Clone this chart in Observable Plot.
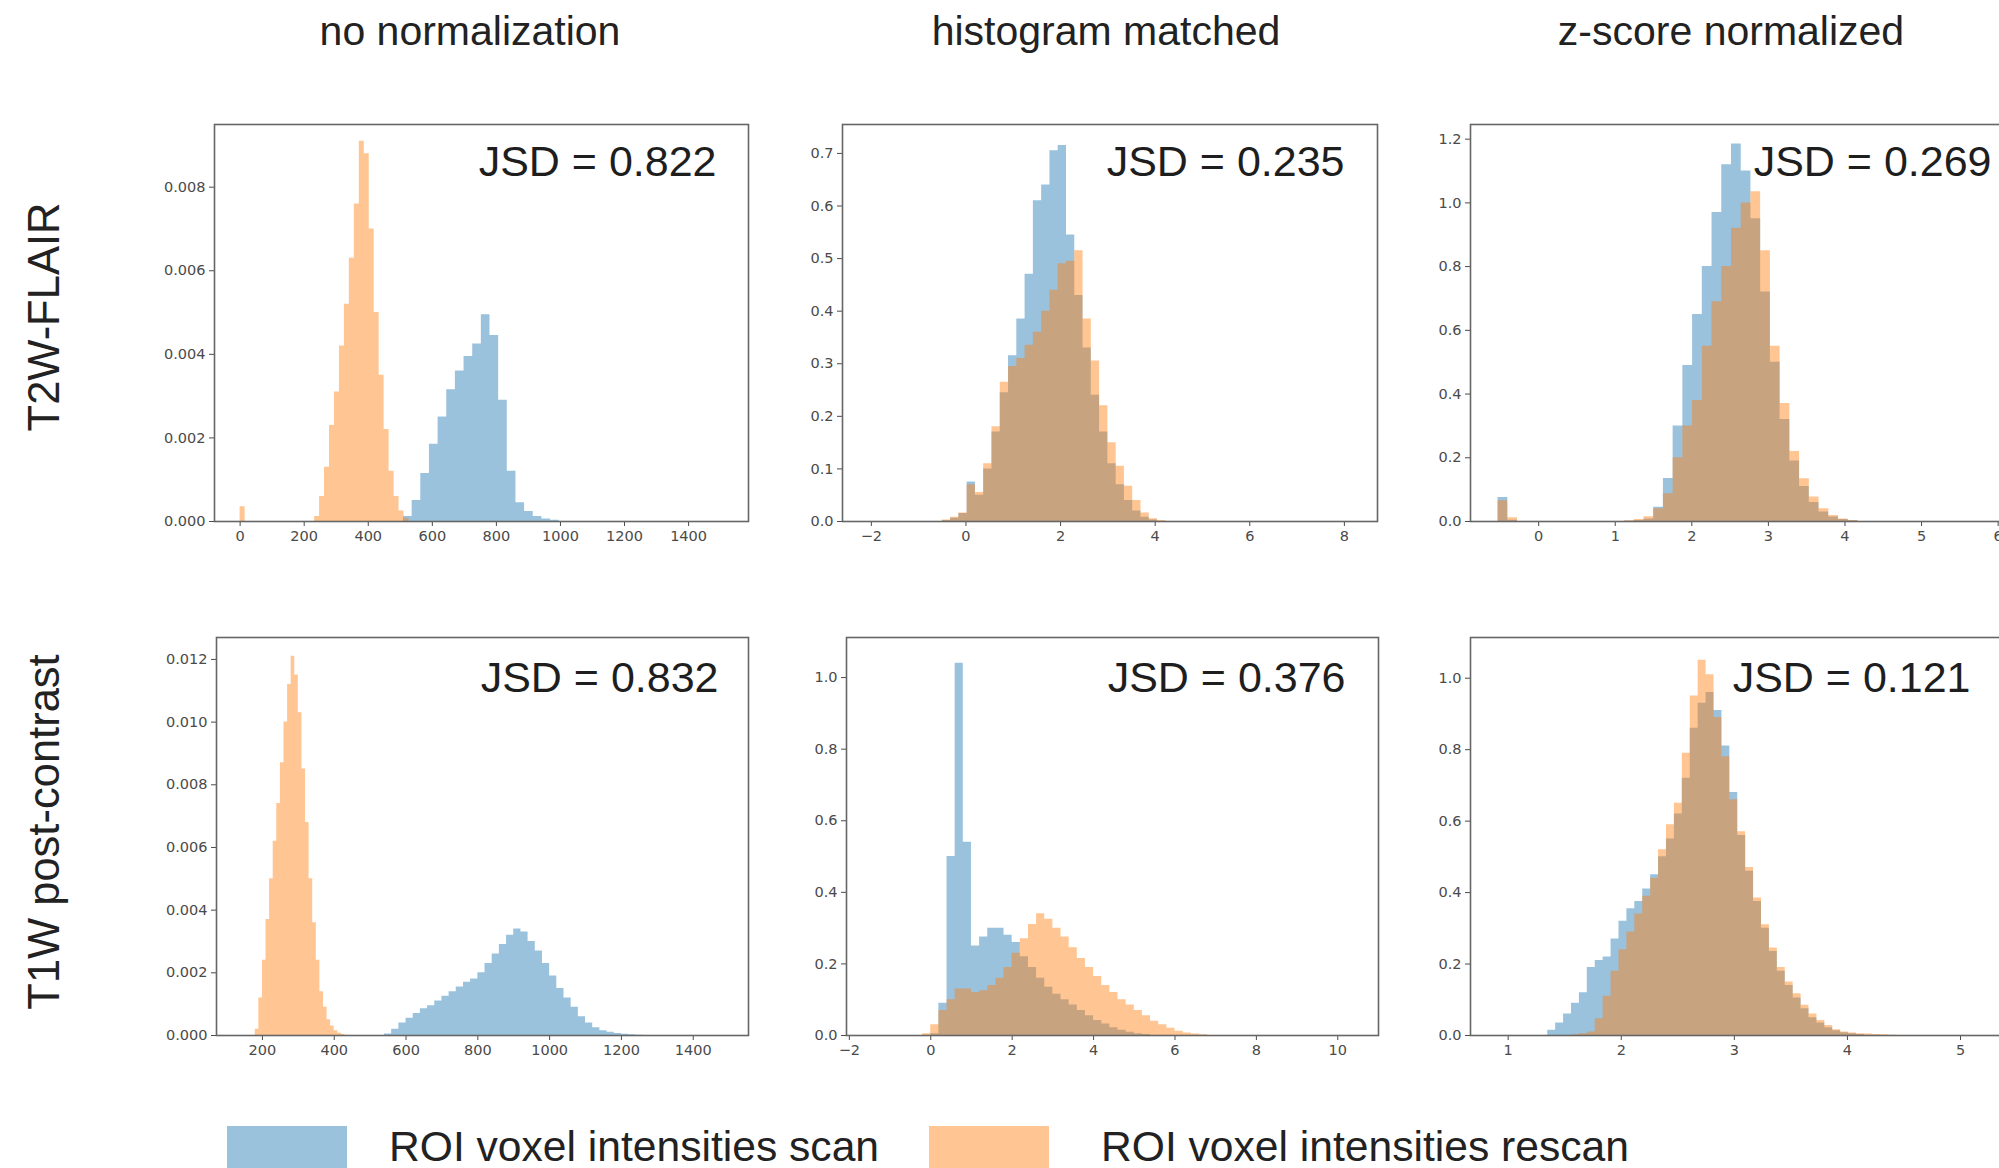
<!DOCTYPE html>
<html><head><meta charset="utf-8">
<script src="https://cdn.jsdelivr.net/npm/d3@7"></script>
<script src="https://cdn.jsdelivr.net/npm/@observablehq/plot@0.6"></script>
<style>
html,body{margin:0;padding:0;background:#fff;}
#root{position:relative;width:1999px;height:1168px;overflow:hidden;background:#fff;font-family:"Liberation Sans",Arial,sans-serif;color:#222;}
.panel{position:absolute;}
.panel svg{max-width:none !important;}
.title{position:absolute;font-size:41px;transform:translate(-50%,-50%);white-space:nowrap;}
.rowlab{position:absolute;font-size:43.5px;transform:translate(-50%,-50%) rotate(-90deg);white-space:nowrap;}
.legsw{position:absolute;}
.legtx{position:absolute;font-size:42.6px;transform:translateY(-50%);white-space:nowrap;}
</style></head><body><div id="root"></div>
<script>
// ---------- text ----------
const colTitles = ["no normalization", "histogram matched", "z-score normalized"];
const rowTitles = ["T2W-FLAIR", "T1W post-contrast"];
const legendLabels = ["ROI voxel intensities scan", "ROI voxel intensities rescan"];
const jsdValues = [0.822, 0.235, 0.269, 0.832, 0.376, 0.121];

// ---------- axes ----------
const xDomains = [[-80, 1587], [-2.61, 8.70], [-0.89, 6.07], [72, 1554], [-2.07, 11.0], [0.667, 5.38]];
const yDomains = [[0, 0.0095], [0, 0.755], [0, 1.246], [0, 0.0127], [0, 1.112], [0, 1.114]];
const xTicks = [
  [0, 200, 400, 600, 800, 1000, 1200, 1400],
  [-2, 0, 2, 4, 6, 8],
  [0, 1, 2, 3, 4, 5, 6],
  [200, 400, 600, 800, 1000, 1200, 1400],
  [-2, 0, 2, 4, 6, 8, 10],
  [1, 2, 3, 4, 5]
];
const yTicks = [
  [0, 0.002, 0.004, 0.006, 0.008],
  [0, 0.1, 0.2, 0.3, 0.4, 0.5, 0.6, 0.7],
  [0, 0.2, 0.4, 0.6, 0.8, 1.0, 1.2],
  [0, 0.002, 0.004, 0.006, 0.008, 0.010, 0.012],
  [0, 0.2, 0.4, 0.6, 0.8, 1.0],
  [0, 0.2, 0.4, 0.6, 0.8, 1.0]
];

// ---------- histograms: bin start, bin width, bin heights ----------
// T2W-FLAIR, no normalization
const t2NoneScanStart = 510, t2NoneScanWidth = 27;
const t2NoneScan = [0.00012, 0.0005, 0.00115, 0.00185, 0.0025, 0.00315, 0.0036, 0.00395, 0.00425, 0.00495, 0.00445, 0.0029, 0.0012, 0.00045, 0.00024, 0.00012, 0.00006, 0.00003];
const t2NoneRescanStart = 0, t2NoneRescanWidth = 15.5;
const t2NoneRescan = [0.00035, 0, 0, 0, 0, 0, 0, 0, 0, 0, 0, 0, 0, 0, 0, 0.00012, 0.0006, 0.0013, 0.0023, 0.0031, 0.0042, 0.0052, 0.0063, 0.0076, 0.0091, 0.0088, 0.0070, 0.0050, 0.0035, 0.0022, 0.0012, 0.0006, 0.00025, 0.00008];
// T2W-FLAIR, histogram matched
const t2HistScanStart = -0.5, t2HistScanWidth = 0.175;
const t2HistScan = [0.002, 0.006, 0.015, 0.075, 0.05, 0.1, 0.17, 0.245, 0.315, 0.385, 0.47, 0.61, 0.64, 0.705, 0.715, 0.545, 0.43, 0.33, 0.24, 0.17, 0.11, 0.07, 0.04, 0.02, 0.008, 0.003];
const t2HistRescanStart = -0.5, t2HistRescanWidth = 0.175;
const t2HistRescan = [0.003, 0.008, 0.016, 0.07, 0.055, 0.11, 0.18, 0.265, 0.295, 0.31, 0.335, 0.36, 0.40, 0.44, 0.49, 0.495, 0.515, 0.385, 0.305, 0.22, 0.15, 0.105, 0.067, 0.04, 0.016, 0.005, 0.002];
// T2W-FLAIR, z-score normalized
const t2ZScanStart = -0.53, t2ZScanWidth = 0.127;
const t2ZScan = [0.075, 0.004, 0, 0, 0, 0, 0, 0, 0, 0, 0, 0, 0, 0.001, 0.003, 0.008, 0.045, 0.135, 0.30, 0.49, 0.65, 0.80, 0.97, 1.12, 1.185, 1.10, 0.95, 0.72, 0.50, 0.32, 0.19, 0.11, 0.06, 0.03, 0.014, 0.006, 0.002];
const t2ZRescanStart = -0.53, t2ZRescanWidth = 0.127;
const t2ZRescan = [0.065, 0.012, 0, 0, 0, 0, 0, 0, 0, 0, 0, 0, 0, 0.002, 0.006, 0.015, 0.04, 0.087, 0.2, 0.30, 0.38, 0.55, 0.69, 0.80, 0.92, 1.0, 1.035, 0.85, 0.55, 0.37, 0.22, 0.134, 0.077, 0.04, 0.019, 0.008, 0.003];
// T1W post-contrast, no normalization
const t1NoneScanStart = 540, t1NoneScanWidth = 20;
const t1NoneScan = [0.00005, 0.0002, 0.0004, 0.00055, 0.0007, 0.00085, 0.00095, 0.0011, 0.00125, 0.0014, 0.00155, 0.0017, 0.0018, 0.002, 0.0023, 0.0026, 0.0029, 0.0032, 0.0034, 0.0033, 0.003, 0.0027, 0.0023, 0.0019, 0.0015, 0.0012, 0.0009, 0.0006, 0.0004, 0.00025, 0.00015, 0.0001, 0.00006, 0.00004, 0.00002, 0.00001];
const t1NoneRescanStart = 180, t1NoneRescanWidth = 10;
const t1NoneRescan = [0.0002, 0.0012, 0.0024, 0.0037, 0.005, 0.0062, 0.0074, 0.0087, 0.01, 0.0112, 0.0121, 0.0115, 0.0103, 0.0085, 0.0068, 0.005, 0.0036, 0.0024, 0.0014, 0.0009, 0.0005, 0.0003, 0.00015, 0.00007, 0.00003];
// T1W post-contrast, histogram matched
const t1HistScanStart = 0, t1HistScanWidth = 0.2;
const t1HistScan = [0.005, 0.09, 0.5, 1.04, 0.54, 0.25, 0.275, 0.30, 0.30, 0.28, 0.26, 0.22, 0.19, 0.16, 0.135, 0.115, 0.1, 0.085, 0.07, 0.055, 0.042, 0.032, 0.022, 0.015, 0.009, 0.005, 0.003];
const t1HistRescanStart = -0.2, t1HistRescanWidth = 0.2;
const t1HistRescan = [0.005, 0.03, 0.07, 0.10, 0.13, 0.13, 0.12, 0.125, 0.14, 0.16, 0.19, 0.23, 0.27, 0.31, 0.34, 0.325, 0.30, 0.275, 0.245, 0.215, 0.19, 0.165, 0.14, 0.12, 0.10, 0.085, 0.07, 0.055, 0.04, 0.03, 0.02, 0.012, 0.007, 0.004, 0.002];
// T1W post-contrast, z-score normalized
const t1ZScanStart = 1.35, t1ZScanWidth = 0.07;
const t1ZScan = [0.015, 0.035, 0.06, 0.09, 0.12, 0.19, 0.21, 0.22, 0.27, 0.32, 0.355, 0.375, 0.41, 0.45, 0.50, 0.55, 0.62, 0.72, 0.86, 0.93, 0.96, 0.91, 0.81, 0.68, 0.56, 0.46, 0.375, 0.30, 0.235, 0.18, 0.14, 0.105, 0.075, 0.05, 0.035, 0.022, 0.013, 0.008, 0.005, 0.003];
const t1ZRescanStart = 1.35, t1ZRescanWidth = 0.07;
const t1ZRescan = [0, 0, 0, 0.002, 0.005, 0.01, 0.047, 0.11, 0.18, 0.24, 0.29, 0.34, 0.39, 0.44, 0.52, 0.59, 0.65, 0.79, 0.95, 1.05, 1.01, 0.89, 0.78, 0.66, 0.57, 0.47, 0.385, 0.31, 0.245, 0.19, 0.15, 0.117, 0.085, 0.06, 0.042, 0.028, 0.016, 0.01, 0.007, 0.005, 0.004, 0.003, 0.002, 0.001];

// ---------- assembly ----------
const series = [
  [[t2NoneScanStart, t2NoneScanWidth, t2NoneScan], [t2NoneRescanStart, t2NoneRescanWidth, t2NoneRescan]],
  [[t2HistScanStart, t2HistScanWidth, t2HistScan], [t2HistRescanStart, t2HistRescanWidth, t2HistRescan]],
  [[t2ZScanStart, t2ZScanWidth, t2ZScan], [t2ZRescanStart, t2ZRescanWidth, t2ZRescan]],
  [[t1NoneScanStart, t1NoneScanWidth, t1NoneScan], [t1NoneRescanStart, t1NoneRescanWidth, t1NoneRescan]],
  [[t1HistScanStart, t1HistScanWidth, t1HistScan], [t1HistRescanStart, t1HistRescanWidth, t1HistRescan]],
  [[t1ZScanStart, t1ZScanWidth, t1ZScan], [t1ZRescanStart, t1ZRescanWidth, t1ZRescan]]
];
const yFormats = [".3f", ".1f", ".1f", ".3f", ".1f", ".1f"];

// layout (pixels)
const frames = [
  {L: 214, T: 124, R: 748, B: 521, jx: 32},
  {L: 842, T: 124, R: 1377, B: 521, jx: 33},
  {L: 1470, T: 124, R: 2003, B: 521, jx: 12},
  {L: 216, T: 637, R: 748, B: 1035, jx: 30},
  {L: 846, T: 637, R: 1378, B: 1035, jx: 33},
  {L: 1470, T: 637, R: 2003, B: 1035, jx: 33}
];
const titlePos = [[470, 31], [1106, 31], [1731, 31]];
const rowPos = [[44, 317], [44, 832]];
const scanColor = "#1f77b4", rescanColor = "#ff7f0e";

function steps([start, width, heights]) {
  const pts = heights.map((h, i) => ({x: start + i * width, y: h}));
  pts.push({x: start + heights.length * width, y: 0});
  return pts;
}

const root = document.getElementById("root");
const mL = 80, mR = 10, mT = 10, mB = 40;

frames.forEach((f, i) => {
  const [scan, rescan] = series[i];
  const W = f.R - f.L + mL + mR, H = f.B - f.T + mT + mB;
  const chart = Plot.plot({
    width: W,
    height: H,
    marginLeft: mL, marginRight: mR, marginTop: mT, marginBottom: mB,
    style: {fontFamily: "DejaVu Sans", fontSize: "14.5px", color: "#4a4a4a", background: "transparent", overflow: "visible"},
    x: {domain: xDomains[i], ticks: xTicks[i], tickSize: 5, tickPadding: 4, label: null, tickFormat: d3.format("d")},
    y: {domain: yDomains[i], ticks: yTicks[i], tickSize: 5, tickPadding: 4, label: null, tickFormat: d3.format(yFormats[i])},
    marks: [
      Plot.areaY(steps(scan), {x: "x", y: "y", curve: "step-after", fill: scanColor, fillOpacity: 0.45}),
      Plot.areaY(steps(rescan), {x: "x", y: "y", curve: "step-after", fill: rescanColor, fillOpacity: 0.45}),
      Plot.frame({stroke: "#666", strokeWidth: 1.6}),
      Plot.text([`JSD = ${jsdValues[i].toFixed(3)}`], {
        text: d => d, frameAnchor: "top-right", textAnchor: "end", lineAnchor: "middle",
        dx: -f.jx, dy: i < 3 ? 38 : 41, fontSize: 43, fontFamily: "Liberation Sans", fill: "#1e1e1e"
      })
    ]
  });
  chart.style.maxWidth = "none";
  chart.style.width = W + "px";
  chart.style.height = H + "px";
  const div = document.createElement("div");
  div.className = "panel";
  div.style.left = (f.L - mL) + "px";
  div.style.top = (f.T - mT) + "px";
  div.style.width = W + "px";
  div.style.height = H + "px";
  div.appendChild(chart);
  root.appendChild(div);
});

colTitles.forEach((t, i) => {
  const d = document.createElement("div");
  d.className = "title"; d.textContent = t;
  d.style.left = titlePos[i][0] + "px"; d.style.top = titlePos[i][1] + "px";
  root.appendChild(d);
});
rowTitles.forEach((t, i) => {
  const d = document.createElement("div");
  d.className = "rowlab"; d.textContent = t;
  d.style.left = rowPos[i][0] + "px"; d.style.top = rowPos[i][1] + "px";
  root.appendChild(d);
});

// legend
const legendItems = [
  {sw: [227, 1126, 120, 44], tx: [389, 1146], color: scanColor},
  {sw: [929, 1126, 120, 44], tx: [1101, 1146], color: rescanColor}
];
legendItems.forEach((it, i) => {
  const s = document.createElement("div");
  s.className = "legsw";
  s.style.left = it.sw[0] + "px"; s.style.top = it.sw[1] + "px";
  s.style.width = it.sw[2] + "px"; s.style.height = it.sw[3] + "px";
  s.style.background = it.color; s.style.opacity = 0.45;
  root.appendChild(s);
  const t = document.createElement("div");
  t.className = "legtx"; t.textContent = legendLabels[i];
  t.style.left = it.tx[0] + "px"; t.style.top = it.tx[1] + "px";
  root.appendChild(t);
});
</script></body></html>
